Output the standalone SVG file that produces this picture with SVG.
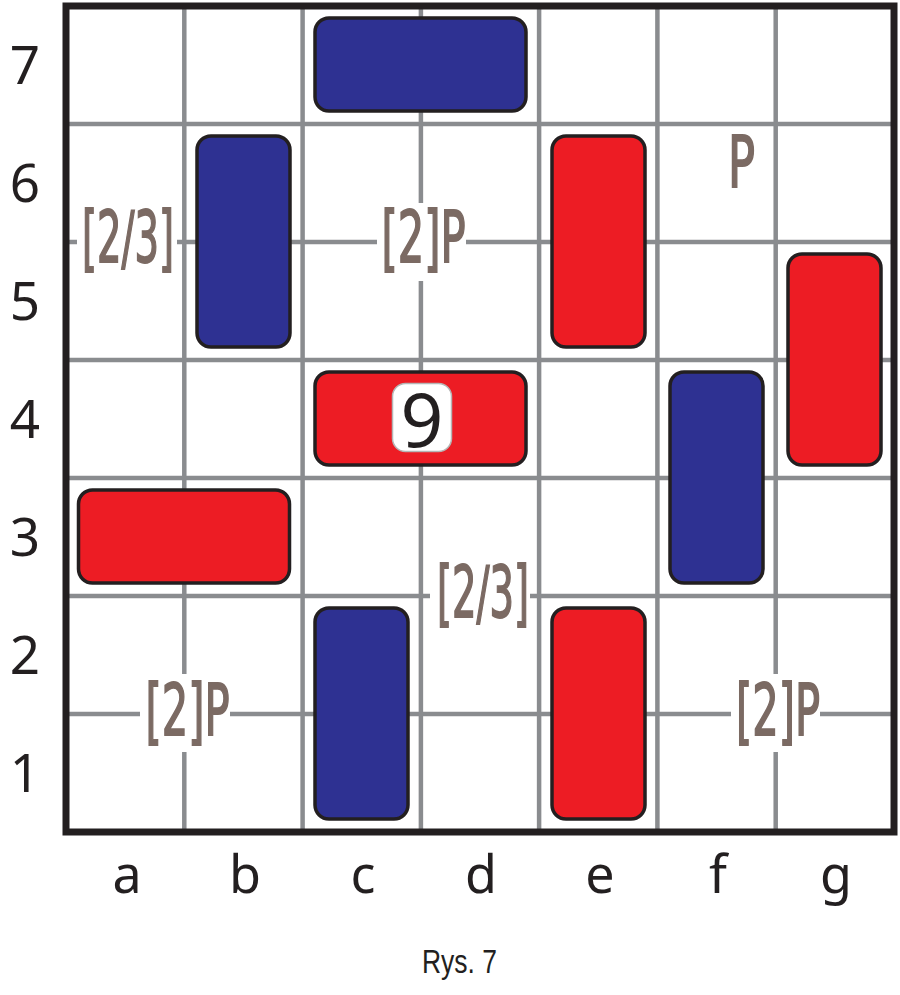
<svg xmlns="http://www.w3.org/2000/svg" width="900" height="995" viewBox="0 0 900 995">
<style>
.grid{stroke:#8a8c8f;stroke-width:4.5;fill:none}
.frame{stroke:#231f20;stroke-width:7;fill:none}
.blue{fill:#2e3192;stroke:#231f20;stroke-width:3.5}
.red{fill:#ed1c24;stroke:#231f20;stroke-width:3.5}
.bg{fill:#ffffff}
.lbl{font-family:"Liberation Sans Narrow","DejaVu Sans Condensed","Liberation Sans",sans-serif;font-size:71px;fill:#7b6a63;stroke:#7b6a63;stroke-width:1.8;text-anchor:middle}
.axis{font-family:"Noto Sans","Open Sans","DejaVu Sans",sans-serif;font-size:53px;fill:#231f20;text-anchor:middle}
.cap{font-family:"Liberation Sans Narrow","Liberation Sans",sans-serif;font-size:33px;fill:#231f20;text-anchor:middle}
</style>
<rect x="0" y="0" width="900" height="995" fill="#ffffff"/>
<g id="board">
<rect x="66" y="6" width="828" height="826" fill="#ffffff"/>
<g id="grid-lines">
<line class="grid" x1="184.3" y1="6" x2="184.3" y2="832"/>
<line class="grid" x1="302.6" y1="6" x2="302.6" y2="832"/>
<line class="grid" x1="420.9" y1="6" x2="420.9" y2="832"/>
<line class="grid" x1="539.1" y1="6" x2="539.1" y2="832"/>
<line class="grid" x1="657.4" y1="6" x2="657.4" y2="832"/>
<line class="grid" x1="775.7" y1="6" x2="775.7" y2="832"/>
<line class="grid" x1="66" y1="124" x2="894" y2="124"/>
<line class="grid" x1="66" y1="242" x2="894" y2="242"/>
<line class="grid" x1="66" y1="360" x2="894" y2="360"/>
<line class="grid" x1="66" y1="478" x2="894" y2="478"/>
<line class="grid" x1="66" y1="596" x2="894" y2="596"/>
<line class="grid" x1="66" y1="714" x2="894" y2="714"/>
</g>
<rect class="frame" x="66" y="6" width="828" height="826"/>
</g>
<g id="pieces">
<g id="piece-c7-d7"><rect class="blue" x="315" y="18" width="211" height="93" rx="14"/></g>
<g id="piece-b6-b5"><rect class="blue" x="197" y="136" width="93" height="211" rx="14"/></g>
<g id="piece-e6-e5"><rect class="red" x="552" y="136" width="93" height="211" rx="14"/></g>
<g id="piece-g5-g4"><rect class="red" x="788" y="254" width="93" height="211" rx="14"/></g>
<g id="piece-c4-d4"><rect class="red" x="315" y="372" width="211" height="93" rx="14"/>
<rect x="392.5" y="383.5" width="59" height="68" rx="13" fill="#ffffff" stroke="#b5b5b5" stroke-width="1.5"/>
<text x="422" y="447" style="font-family:'Noto Sans','Open Sans','DejaVu Sans',sans-serif;font-size:75px;fill:#231f20;text-anchor:middle">9</text></g>
<g id="piece-f4-f3"><rect class="blue" x="670" y="372" width="93" height="211" rx="14"/></g>
<g id="piece-a3-b3"><rect class="red" x="78.5" y="490" width="211" height="93" rx="14"/></g>
<g id="piece-c2-c1"><rect class="blue" x="315" y="608" width="93" height="211" rx="14"/></g>
<g id="piece-e2-e1"><rect class="red" x="552" y="608" width="93" height="211" rx="14"/></g>
</g>
<g id="labels">
<g id="label-a65"><rect class="bg" x="77" y="201" width="100" height="80"/><text class="lbl" x="128" y="262" textLength="92" lengthAdjust="spacingAndGlyphs">[2/3]</text></g>
<g id="label-cd65"><rect class="bg" x="377" y="203" width="89" height="78"/><text class="lbl" x="423.5" y="262" textLength="84" lengthAdjust="spacingAndGlyphs">[2]P</text></g>
<g id="label-f6"><text class="lbl" x="741.5" y="187" textLength="27" lengthAdjust="spacingAndGlyphs">P</text></g>
<g id="label-d32"><rect class="bg" x="430" y="556" width="100" height="80"/><text class="lbl" x="483" y="617" textLength="92" lengthAdjust="spacingAndGlyphs">[2/3]</text></g>
<g id="label-ab21"><rect class="bg" x="140" y="674" width="90" height="78"/><text class="lbl" x="187.5" y="735" textLength="84" lengthAdjust="spacingAndGlyphs">[2]P</text></g>
<g id="label-fg21"><rect class="bg" x="731" y="674" width="89" height="78"/><text class="lbl" x="778" y="735" textLength="84" lengthAdjust="spacingAndGlyphs">[2]P</text></g>
</g>
<g id="row-labels">
<text class="axis" x="25" y="84">7</text>
<text class="axis" x="25" y="202">6</text>
<text class="axis" x="25" y="320">5</text>
<text class="axis" x="25" y="438">4</text>
<text class="axis" x="25" y="556">3</text>
<text class="axis" x="25" y="674">2</text>
<text class="axis" x="25" y="792">1</text>
</g>
<g id="column-labels">
<text class="axis" x="127" y="893" style="font-size:52px">a</text>
<text class="axis" x="245" y="893" style="font-size:52px">b</text>
<text class="axis" x="363" y="893" style="font-size:52px">c</text>
<text class="axis" x="481" y="893" style="font-size:52px">d</text>
<text class="axis" x="600" y="893" style="font-size:52px">e</text>
<text class="axis" x="718" y="893" style="font-size:52px">f</text>
<text class="axis" x="836" y="893" style="font-size:52px">g</text>
</g>
<text id="caption" class="cap" x="459.5" y="973" textLength="75" lengthAdjust="spacingAndGlyphs">Rys. 7</text>
</svg>
